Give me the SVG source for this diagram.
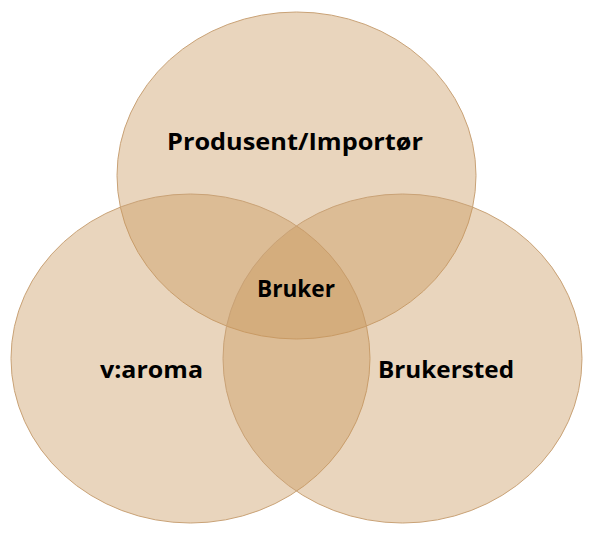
<svg xmlns="http://www.w3.org/2000/svg" width="596" height="538" viewBox="0 0 596 538">
<style>
.c{fill:#C9965A;fill-opacity:0.4;stroke:#C9A276;stroke-width:1}
.t{font-family:"Open Sans","Liberation Sans",sans-serif;font-weight:bold;font-size:23px;fill:#000000;text-anchor:middle}
</style>
<rect width="596" height="538" fill="#ffffff"/>
<g id="top"><ellipse class="c" cx="296.5" cy="175.5" rx="179.5" ry="163.5"/></g>
<g id="left"><ellipse class="c" cx="190.5" cy="358.5" rx="179.5" ry="164.5"/></g>
<g id="right"><ellipse class="c" cx="402.5" cy="358.5" rx="179.5" ry="164.5"/></g>
<g id="labels">
<text class="t" x="295" y="150" textLength="256" lengthAdjust="spacingAndGlyphs">Produsent/Importør</text>
<text class="t" x="151.5" y="378" textLength="103" lengthAdjust="spacingAndGlyphs">v:aroma</text>
<text class="t" x="446" y="378" textLength="136" lengthAdjust="spacingAndGlyphs">Brukersted</text>
<text class="t" x="296" y="297" textLength="78" lengthAdjust="spacingAndGlyphs">Bruker</text>
</g>
</svg>
